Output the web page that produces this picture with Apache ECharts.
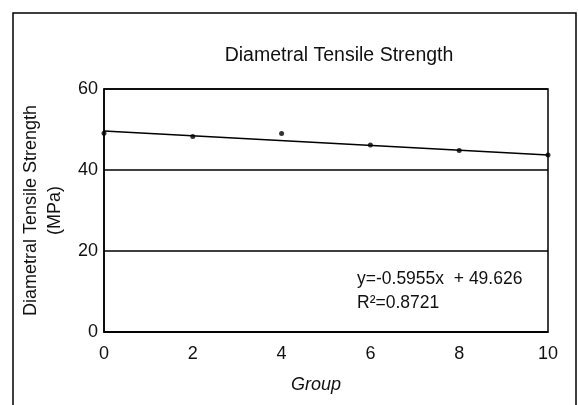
<!DOCTYPE html>
<html>
<head>
<meta charset="utf-8">
<script src="https://cdn.jsdelivr.net/npm/echarts@6/dist/echarts.min.js"></script>
<style>
  html, body { margin: 0; padding: 0; background: #fff; }
  #main { width: 578px; height: 405px; }
</style>
</head>
<body>
<div id="main"></div>
<script>
var groups = [0, 2, 4, 6, 8, 10];
var strength = [49.1, 48.3, 49.0, 46.2, 44.8, 43.7];

// linear trendline end points
var trendX = [0, 10];
var trendY = [49.6, 43.7];

var yTicks = [0, 20, 40, 60];
var xTicks = [0, 2, 4, 6, 8, 10];

var font = '"Liberation Sans", Arial, sans-serif';

var chart = echarts.init(document.getElementById('main'));

chart.setOption({
  animation: false,
  backgroundColor: '#fff',
  textStyle: { fontFamily: font, color: '#000' },
  title: {
    text: 'Diametral Tensile Strength',
    left: 334,
    top: 41,
    textAlign: 'center',
    textStyle: { fontFamily: font, fontSize: 19.5, fontWeight: 'normal', color: '#111' }
  },
  grid: {
    left: 104, right: 30, top: 89, bottom: 73,
    show: true, borderColor: '#000', borderWidth: 1.5
  },
  xAxis: {
    type: 'value',
    min: xTicks[0], max: xTicks[xTicks.length - 1], interval: 2,
    name: 'Group',
    nameLocation: 'middle',
    nameGap: 44,
    nameTextStyle: { fontFamily: font, fontSize: 18, fontStyle: 'italic', color: '#111', padding: [0, 20, 0, 0] },
    axisLine: { lineStyle: { color: '#000', width: 1.5 } },
    axisTick: { show: false },
    splitLine: { show: false },
    axisLabel: { fontFamily: font, fontSize: 18, color: '#111', margin: 13 }
  },
  yAxis: {
    type: 'value',
    min: yTicks[0], max: yTicks[yTicks.length - 1], interval: 20,
    name: 'Diametral Tensile Strength\n(MPa)',
    nameLocation: 'middle',
    nameGap: 24,
    nameTextStyle: { fontFamily: font, fontSize: 18, color: '#111', lineHeight: 24 },
    axisLine: { show: true, lineStyle: { color: '#000', width: 1.5 } },
    axisTick: { show: false },
    splitLine: { lineStyle: { color: '#000', width: 1.5 } },
    axisLabel: { fontFamily: font, fontSize: 18, color: '#111', margin: 6 }
  },
  series: [
    {
      type: 'line',
      data: trendX.map(function (x, i) { return [x, trendY[i]]; }),
      showSymbol: false,
      lineStyle: { color: '#000', width: 1.5 },
      z: 2
    },
    {
      type: 'scatter',
      data: groups.map(function (g, i) { return [g, strength[i]]; }),
      symbol: 'circle',
      symbolSize: 5,
      itemStyle: { color: '#000' },
      z: 3
    }
  ],
  graphic: [
    {
      type: 'rect',
      shape: { x: 13, y: 13, width: 563, height: 420 },
      style: { fill: 'none', stroke: '#000', lineWidth: 1.5 },
      silent: true
    },
    {
      type: 'text',
      left: 357, top: 270,
      style: { text: 'y=-0.5955x  + 49.626', font: '17.5px ' + font, fill: '#111' }
    },
    {
      type: 'text',
      left: 357, top: 294,
      style: { text: 'R\u00b2=0.8721', font: '17.5px ' + font, fill: '#111' }
    }
  ]
});
</script>
</body>
</html>
